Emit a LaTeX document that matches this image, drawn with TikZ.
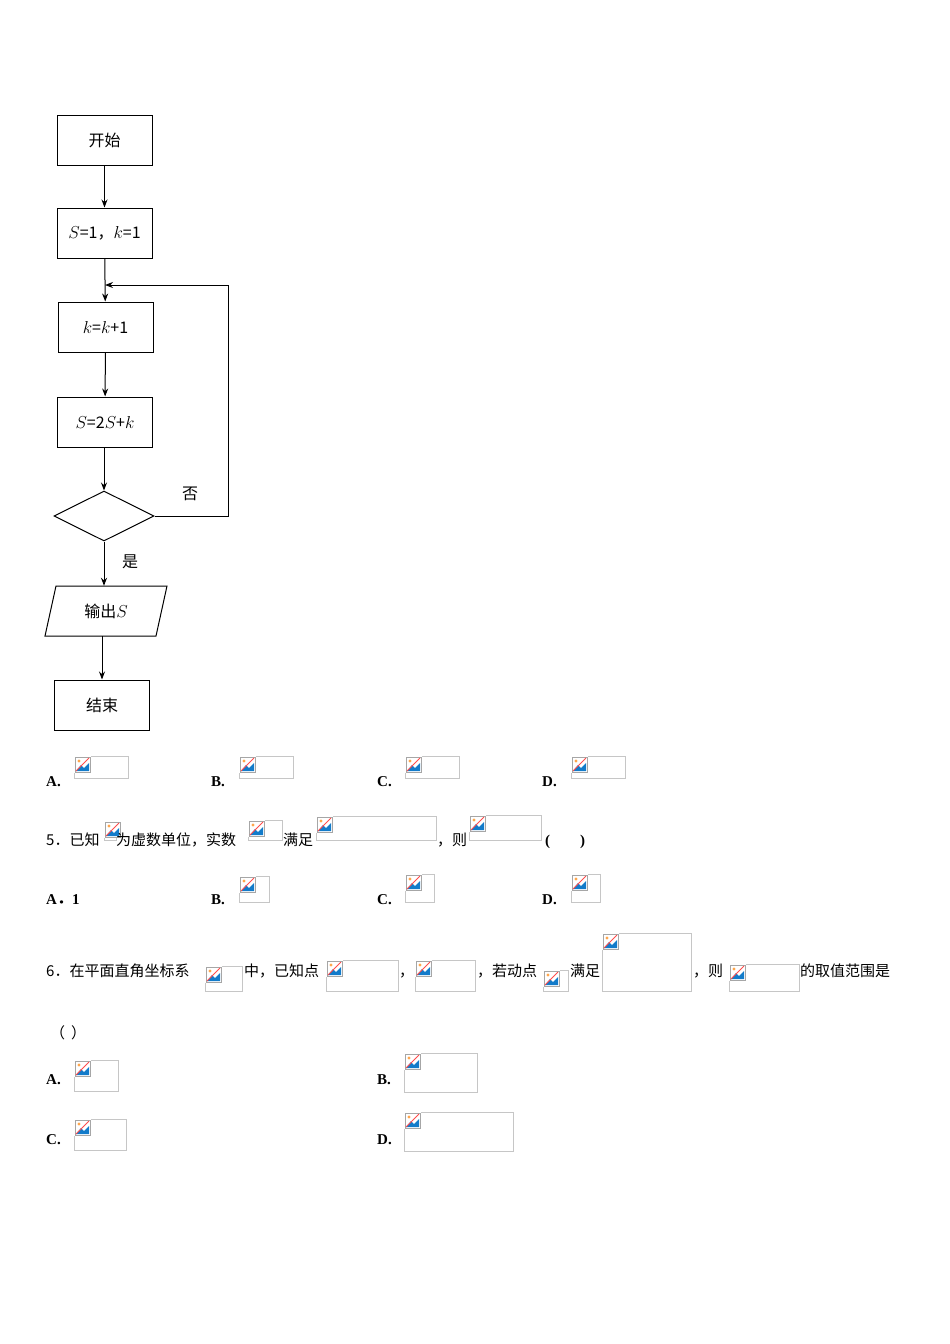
\documentclass[tikz,border=0pt]{standalone}
\usepackage{fontspec}
\setmainfont{Liberation Serif}
\newfontfamily\cjk{Noto Sans CJK SC}
\usetikzlibrary{shapes.geometric,arrows.meta}
\tikzset{
 box/.style={draw,line width=1pt,minimum width=95pt,minimum height=50pt,inner sep=0pt,font=\cjk\fontsize{16}{19}\selectfont},
 arr/.style={draw,line width=1pt,-{Stealth[length=8pt,width=6pt]}},
 txt/.style={anchor=base west,inner sep=0pt,font=\cjk\fontsize{15}{18}\selectfont},
 lab/.style={anchor=base west,inner sep=0pt,font=\bfseries\fontsize{15}{18}\selectfont}
}
\newcommand{\imgph}[4]{%
 \draw[gray!45] (#1,#2) rectangle (#3,#4);
 \fill[white] (#1,#2) rectangle ++(17,17);
 \draw[gray!70] (#1+1,#2+1) rectangle ++(15,15);
 \fill[cyan!60!blue] (#1+2,#2+15) -- (#1+7,#2+9) -- (#1+10,#2+12) -- (#1+15,#2+7) -- (#1+15,#2+15) -- cycle;
 \fill[orange!70] (#1+5,#2+5) circle (1.6);
 \draw[red!70,thick] (#1+15,#2+2) -- (#1+2,#2+15);}
\begin{document}
\begin{tikzpicture}[x=1pt,y=-1pt]
\useasboundingbox (0,0) rectangle (950,1344);
% flowchart
\node[box] (start) at (104.5,140) {开始};
\node[box] (init) at (104.5,233) {$S$=1，$k$=1};
\node[box] (inc) at (105.5,327) {$k$=$k$+1};
\node[box] (upd) at (105,422) {$S$=2$S$+$k$};
\node[draw,line width=1pt,diamond,aspect=2,minimum width=100pt,minimum height=50pt,inner sep=0pt] (dec) at (104,516) {};
\node[minimum width=100pt,minimum height=50pt,inner sep=0pt,font=\cjk\fontsize{16}{19}\selectfont] (out) at (106,611) {输出$S$};
\draw[line width=1pt] (56,586) -- (167,586) -- (156,636) -- (45,636) -- cycle;
\node[box] (end) at (102,705) {结束};
\coordinate (j) at (105,285);
\coordinate (c1) at (228,516);
\coordinate (c2) at (228,285);
\draw[arr] (start) -- (init);
\draw[arr] (init) -- (inc);
\draw[arr] (inc) -- (upd);
\draw[arr] (upd.south -| dec.north) -- (dec);
\draw[arr] (dec) -- (out.north -| dec.south);
\draw[arr] (out.south -| end.north) -- (end);
\draw[arr] (dec.east) -- (c1) -- (c2) -- (j);
\node[font=\cjk\fontsize{16}{19}\selectfont] (no) at (190,494) {否};
\node[font=\cjk\fontsize{16}{19}\selectfont] (yes) at (130,562) {是};
% row options
\node[lab] at (46,786) {A.}; \imgph{74}{756}{128}{778}
\node[lab] at (211,786) {B.}; \imgph{239}{756}{293}{778}
\node[lab] at (377,786) {C.}; \imgph{405}{756}{459}{778}
\node[lab] at (542,786) {D.}; \imgph{571}{756}{625}{778}
% Q5
\node[txt] at (46,845) {5．已知};
\imgph{104}{821}{116}{840}
\node[txt] at (116,845) {为虚数单位，实数};
\imgph{248}{820}{282}{840}
\node[txt] at (283,845) {满足};
\imgph{316}{816}{436}{840}
\node[txt] at (437,845) {，则};
\imgph{469}{815}{541}{840}
\node[lab] at (545,845) {(\hspace{30pt})};
\node[lab] at (46,904) {A\cjk．\rmfamily\bfseries 1};
\node[lab] at (211,904) {B.}; \imgph{239}{876}{269}{902}
\node[lab] at (377,904) {C.}; \imgph{405}{874}{434}{902}
\node[lab] at (542,904) {D.}; \imgph{571}{874}{600}{902}
% Q6
\node[txt] at (46,976) {6．在平面直角坐标系};
\imgph{205}{966}{242}{991}
\node[txt] at (244,976) {中，已知点};
\imgph{326}{960}{398}{991}
\node[txt] at (399,976) {，};
\imgph{415}{960}{475}{991}
\node[txt] at (477,976) {，若动点};
\imgph{543}{970}{568}{991}
\node[txt] at (570,976) {满足};
\imgph{602}{933}{691}{991}
\node[txt] at (693,976) {，则};
\imgph{729}{964}{799}{991}
\node[txt] at (800,976) {的取值范围是};
\node[txt] at (50,1038) {（\hspace{6pt}）};
\node[lab] at (46,1084) {A.}; \imgph{74}{1060}{118}{1091}
\node[lab] at (377,1084) {B.}; \imgph{404}{1053}{477}{1092}
\node[lab] at (46,1144) {C.}; \imgph{74}{1119}{126}{1150}
\node[lab] at (377,1144) {D.}; \imgph{404}{1112}{513}{1151}
\end{tikzpicture}
\end{document}
